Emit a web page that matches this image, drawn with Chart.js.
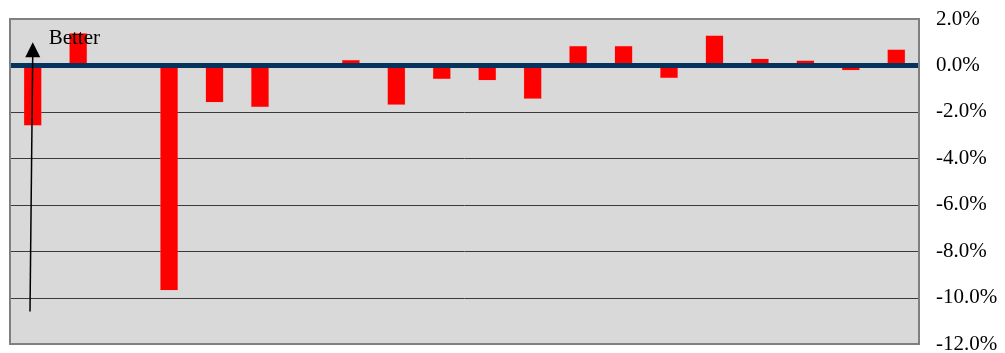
<!DOCTYPE html>
<html>
<head>
<meta charset="utf-8">
<script src="https://cdn.jsdelivr.net/npm/chart.js@4/dist/chart.umd.min.js"></script>
<style>
    body { margin: 0; background: #fff; }
    #wrap { width: 1005px; height: 353px; }
</style>
</head>
<body>
<div id="wrap"><canvas id="chart" width="1005" height="353"></canvas></div>
<script>
var categories = ['1', '2', '3', '4', '5', '6', '7', '8', '9', '10',
                  '11', '12', '13', '14', '15', '16', '17', '18', '19', '20'];
var values = [-2.6, 1.4, 0, -9.7, -1.6, -1.8, 0, 0.25, -1.7, -0.6,
              -0.65, -1.45, 0.85, 0.85, -0.55, 1.3, 0.3, 0.22, -0.22, 0.7];
var yTicks = [2, 0, -2, -4, -6, -8, -10, -12];

// arrow + "Better" note, in data units (category index, percent)
var note = { text: 'Better', x: 0.35, y: 1.15, arrowX0: -0.06, arrowY0: -10.6, arrowX1: 0, arrowY1: 1.0 };

var serif = "'Liberation Serif', 'Times New Roman', serif";

var frame = {
    id: 'frame',
    beforeDatasetsDraw: function (chart) {
        var a = chart.chartArea, ctx = chart.ctx;
        ctx.save();
        ctx.fillStyle = '#d9d9d9';
        ctx.fillRect(a.left, a.top, a.right - a.left, a.bottom - a.top);
        // gridlines on top of the fill
        var y = chart.scales.y;
        ctx.strokeStyle = '#3a3a3a';
        ctx.lineWidth = 1;
        yTicks.forEach(function (v) {
            if (v === 0 || v === 2 || v === -12) return;
            var py = Math.round(y.getPixelForValue(v)) + 0.5;
            ctx.beginPath();
            ctx.moveTo(a.left, py);
            ctx.lineTo(a.right, py);
            ctx.stroke();
        });
        ctx.restore();
    },
    afterDatasetsDraw: function (chart) {
        var a = chart.chartArea, ctx = chart.ctx;
        var x = chart.scales.x, y = chart.scales.y;
        ctx.save();
        // zero line
        var z = y.getPixelForValue(0);
        ctx.strokeStyle = '#06325e';
        ctx.lineWidth = 5;
        ctx.beginPath();
        ctx.moveTo(a.left, z);
        ctx.lineTo(a.right, z);
        ctx.stroke();
        // border
        ctx.strokeStyle = '#808080';
        ctx.lineWidth = 2;
        ctx.strokeRect(a.left, a.top, a.right - a.left, a.bottom - a.top);
        // arrow
        var x0 = x.getPixelForValue(note.arrowX0), y0 = y.getPixelForValue(note.arrowY0);
        var x1 = x.getPixelForValue(note.arrowX1), y1 = y.getPixelForValue(note.arrowY1);
        ctx.strokeStyle = '#000';
        ctx.fillStyle = '#000';
        ctx.lineWidth = 1.5;
        ctx.beginPath();
        ctx.moveTo(x0, y0);
        ctx.lineTo(x1, y1 + 12);
        ctx.stroke();
        ctx.beginPath();
        ctx.moveTo(x1, y1);
        ctx.lineTo(x1 - 7.5, y1 + 15);
        ctx.lineTo(x1 + 7.5, y1 + 15);
        ctx.closePath();
        ctx.fill();
        // label
        ctx.font = '21px ' + serif;
        ctx.textAlign = 'left';
        ctx.textBaseline = 'middle';
        ctx.fillText(note.text, x.getPixelForValue(note.x), y.getPixelForValue(note.y));
        ctx.restore();
    }
};

var ctx = document.getElementById('chart').getContext('2d');
var chart = new Chart(ctx, {
    type: 'bar',
    data: {
        labels: categories,
        datasets: [{
            data: values,
            backgroundColor: '#ff0000',
            borderColor: 'rgba(255, 140, 140, 0.8)',
            borderWidth: 0.5,
            barPercentage: 1,
            categoryPercentage: 0.4
        }]
    },
    options: {
        responsive: false,
        animation: false,
        layout: { padding: { left: 10, top: 19, right: 0, bottom: 9 } },
        scales: {
            x: { display: false },
            y: {
                position: 'right',
                min: -12,
                max: 2,
                afterFit: function (scale) {
                    scale.width = 86;
                    scale.paddingTop = 0;
                    scale.paddingBottom = 0;
                },
                afterBuildTicks: function (scale) {
                    scale.ticks = yTicks.map(function (v) { return { value: v }; });
                },
                border: { display: false },
                grid: { display: false, drawTicks: false },
                ticks: {
                    padding: 17,
                    color: '#000',
                    font: { family: serif, size: 21 },
                    callback: function (v) { return v.toFixed(1) + '%'; }
                }
            }
        },
        plugins: {
            legend: { display: false },
            tooltip: { enabled: false }
        }
    },
    plugins: [frame]
});
</script>
</body>
</html>
